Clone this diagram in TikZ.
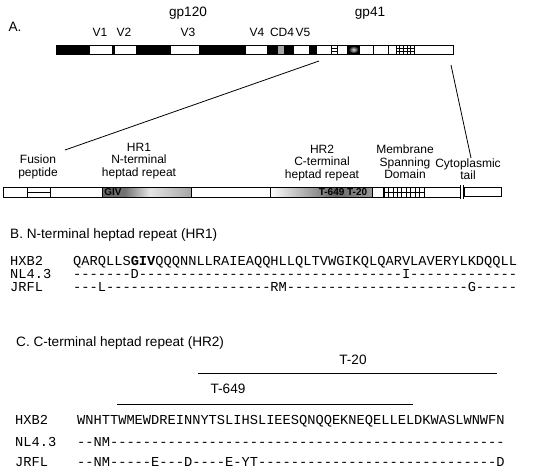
\documentclass[tikz,border=0pt]{standalone}
\usepackage{fontspec}
\setmainfont{Liberation Sans}
\setmonofont{Liberation Mono}
\tikzstyle{outl}=[draw,line width=0.7pt]
\tikzstyle{thin}=[draw,line width=0.45pt]
\tikzstyle{zoomline}=[draw,line width=0.8pt]
\tikzstyle{lbl}=[inner sep=0pt,align=center,font=\fontsize{12}{12.5}\selectfont]
\tikzstyle{gplbl}=[inner sep=0pt,font=\fontsize{13.6}{15}\selectfont]
\tikzstyle{head}=[inner sep=0pt,anchor=west,font=\fontsize{13.6}{15}\selectfont]
\tikzstyle{inbar}=[inner sep=0pt,font=\fontsize{10}{10}\selectfont\bfseries]
\tikzstyle{seq}=[inner sep=0pt,anchor=base west,font=\fontsize{13.7}{14}\selectfont\ttfamily]
\ExplSyntaxOn
\cs_new:Npn \seqgap #1 {\prg_replicate:nn{#1}{-}}
\ExplSyntaxOff

\begin{document}
\begin{tikzpicture}[x=1pt,y=-1pt]
\useasboundingbox (0,0) rectangle (534,471);

% A. gp160 overview
\node[gplbl] (lblA) at (15,27) {A.};
\node[gplbl] (gp120) at (188,13) {gp120};
\node[gplbl] (gp41) at (370,13) {gp41};
\foreach \x/\t in {100/V1,124/V2,188/V3,257/V4,282/CD4,303/V5}
  \node[lbl] (v\t) at (\x,32) {\t};

\foreach \a/\b in {56/89,112/114,136/171,199/246,267/278,284/294,309/317,347/360}
  \fill (\a,45) rectangle (\b,54);
\fill[black!35] (278,45) rectangle (284,54);
\shade[inner color=black!15,outer color=black] (353.5,49.5) ellipse (5 and 3.8);
\foreach \x in {89,114,331,337,373,388,396,414}
  \draw[thin] (\x,45) -- (\x,54);
\draw[thin] (331,48) -- (337,48) (331,51) -- (337,51);
\foreach \x in {399.6,403.2,406.8,410.4}
  \draw[thin] (\x,45) -- (\x,54);
\draw[thin] (396,48) -- (414,48) (396,51) -- (414,51);
\draw[outl] (56,45) rectangle (453,54);

% zoom lines
\coordinate (zA) at (319,61);
\coordinate (zB) at (65,150);
\coordinate (zC) at (451,65);
\coordinate (zD) at (471,158);
\draw[zoomline] (zA) -- (zB);
\draw[zoomline] (zC) -- (zD);

% gp41 detail
\node[lbl] (fusion) at (38,167) {Fusion\\peptide};
\node[lbl] (hr1) at (139,161) {HR1\\N-terminal\\heptad repeat};
\node[lbl] (hr2) at (322,163) {HR2\\C-terminal\\heptad repeat};
\node[lbl] (msd) at (405,162) {Membrane\\Spanning\\Domain};
\node[lbl] (cyto) at (468,169) {Cytoplasmic\\tail};

\shade[left color=black!60,right color=black!55] (102,187) rectangle (125,197);
\shade[left color=black!55,right color=black!10] (125,187) rectangle (150,197);
\shade[left color=black!10,right color=black!35] (150,187) rectangle (191,197);
\shade[left color=white,right color=black!60] (270,187) rectangle (335,197);
\shade[left color=black!60,right color=black!40] (335,187) rectangle (372,197);
\node[inbar] (giv) at (113,192.5) {GIV};
\node[inbar] (tpep) at (343,192.5) {T-649~T-20};

\foreach \x in {27,50,102,191,270,372,424}
  \draw[thin] (\x,187) -- (\x,197);
\draw[thin] (27,192) -- (50,192);
\draw[line width=1.1pt] (384,187) -- (384,197);
\foreach \x in {388.4,392.8,...,420}
  \draw[thin] (\x,187) -- (\x,197);
\draw[thin] (384,192) -- (424,192);
\draw[outl] (3,187) rectangle (460,197);
\draw[outl] (460,185) -- (460,199) (463,185) -- (463,199);
\draw[outl] (464,187) rectangle (501,196);

% B. HR1 alignment
\node[head] (headB) at (10,235) {B. N-terminal heptad repeat (HR1)};
\node[seq] (bx) at (10,265) {HXB2};
\node[seq] (bn) at (10,278) {NL4.3};
\node[seq] (bj) at (10,291) {JRFL};
\node[seq] (bxs) at (73,265) {QARQLLS\textbf{GIV}QQQNNLLRAIEAQQHLLQLTVWGIKQLQARVLAVERYLKDQQLL};
\node[seq] (bns) at (73,278) {\seqgap{7}D\seqgap{32}I\seqgap{13}};
\node[seq] (bjs) at (73,291) {\seqgap{3}L\seqgap{20}RM\seqgap{22}G\seqgap{5}};

% C. HR2 alignment
\node[head] (headC) at (16,343) {C. C-terminal heptad repeat (HR2)};
\node[gplbl] (t20) at (353,360) {T-20};
\coordinate (t20a) at (198,373);
\coordinate (t20b) at (497,373);
\draw[line width=0.9pt] (t20a) -- (t20b);
\node[gplbl] (t649) at (228,389) {T-649};
\coordinate (t649a) at (117,404);
\coordinate (t649b) at (413,404);
\draw[line width=0.9pt] (t649a) -- (t649b);
\node[seq] (cx) at (15,424) {HXB2};
\node[seq] (cn) at (15,446) {NL4.3};
\node[seq] (cj) at (15,466) {JRFL};
\node[seq] (cxs) at (77,424) {WNHTTWMEWDREINNYTSLIHSLIEESQNQQEKNEQELLELDKWASLWNWFN};
\node[seq] (cns) at (77,446) {\seqgap{2}NM\seqgap{48}};
\node[seq] (cjs) at (77,466) {\seqgap{2}NM\seqgap{5}E\seqgap{3}D\seqgap{4}E-YT\seqgap{29}D};
\end{tikzpicture}
\end{document}
